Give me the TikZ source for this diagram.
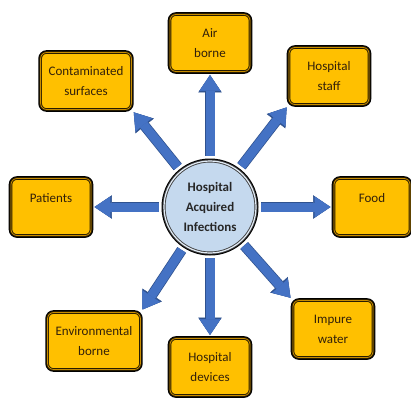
\documentclass[tikz,border=0pt]{standalone}
\usepackage{fontspec}
\setmainfont{Carlito}
\usetikzlibrary{arrows.meta}

\definecolor{boxgold}{RGB}{255,192,0}
\definecolor{boxrim}{RGB}{200,140,0}
\definecolor{hubblue}{RGB}{197,217,238}
\definecolor{arrowblue}{RGB}{68,114,196}
\definecolor{arrowrim}{RGB}{47,82,143}
\definecolor{inktext}{RGB}{50,32,10}

\tikzset{
  cause/.style={draw=black!80!boxrim, line width=0.9pt, double=boxrim, double distance=0.8pt,
    fill=boxgold, rounded corners=6pt, minimum width=80pt, minimum height=57pt,
    inner xsep=8pt, align=center, text=inktext, font=\fontsize{13}{20}\selectfont,
    preaction={draw=black, line width=4.6pt}},
  oneline/.style={text depth=18pt},
  hub/.style={circle, draw=black!75, line width=0.9pt, double=hubblue!50!white,
    double distance=1.2pt, fill=hubblue, minimum size=92pt, align=center,
    text=black!85, font=\fontsize{13}{20}\selectfont\bfseries,
    preaction={draw=black, line width=5pt}},
  spoke/.style={line width=9pt, draw=arrowblue, shorten <=5pt, shorten >=3pt,
    -{Triangle[width=21pt,length=16pt,line width=0.5pt]},
    preaction={draw=arrowrim, line width=10.5pt,
      -{Triangle[width=23.5pt,length=17.5pt,line width=0.5pt]}}}
}

\begin{document}
\begin{tikzpicture}[x=1pt,y=1pt,yscale=-1]
\useasboundingbox (0,0) rectangle (411,397);

% Centre
\node[hub] (hai) at (210,207) {Hospital\\Acquired\\Infections};

% Sources
\node[cause] (air) at (210,43) {Air\\borne};
\node[cause] (staff) at (329,76) {Hospital\\staff};
\node[cause] (surf) at (86,81) {Contaminated\\surfaces};
\node[cause, oneline] (pat) at (51,207) {Patients};
\node[cause, oneline, minimum width=76pt] (food) at (372,207) {Food};
\node[cause] (env) at (94,341) {Environmental\\borne};
\node[cause] (dev) at (210,367) {Hospital\\devices};
\node[cause] (water) at (333,329) {Impure\\water};

% Spokes
\draw[spoke] (hai) -- (air.south);
\draw[spoke] (hai) -- (staff.south west);
\draw[spoke] (hai) -- (surf.south east);
\draw[spoke] (hai) -- (pat.east);
\draw[spoke] (hai) -- (food.west);
\draw[spoke] (hai) -- (water.north west);
\draw[spoke] (hai) -- (dev.north);
\draw[spoke] (hai) -- (env.north east);

\end{tikzpicture}
\end{document}
